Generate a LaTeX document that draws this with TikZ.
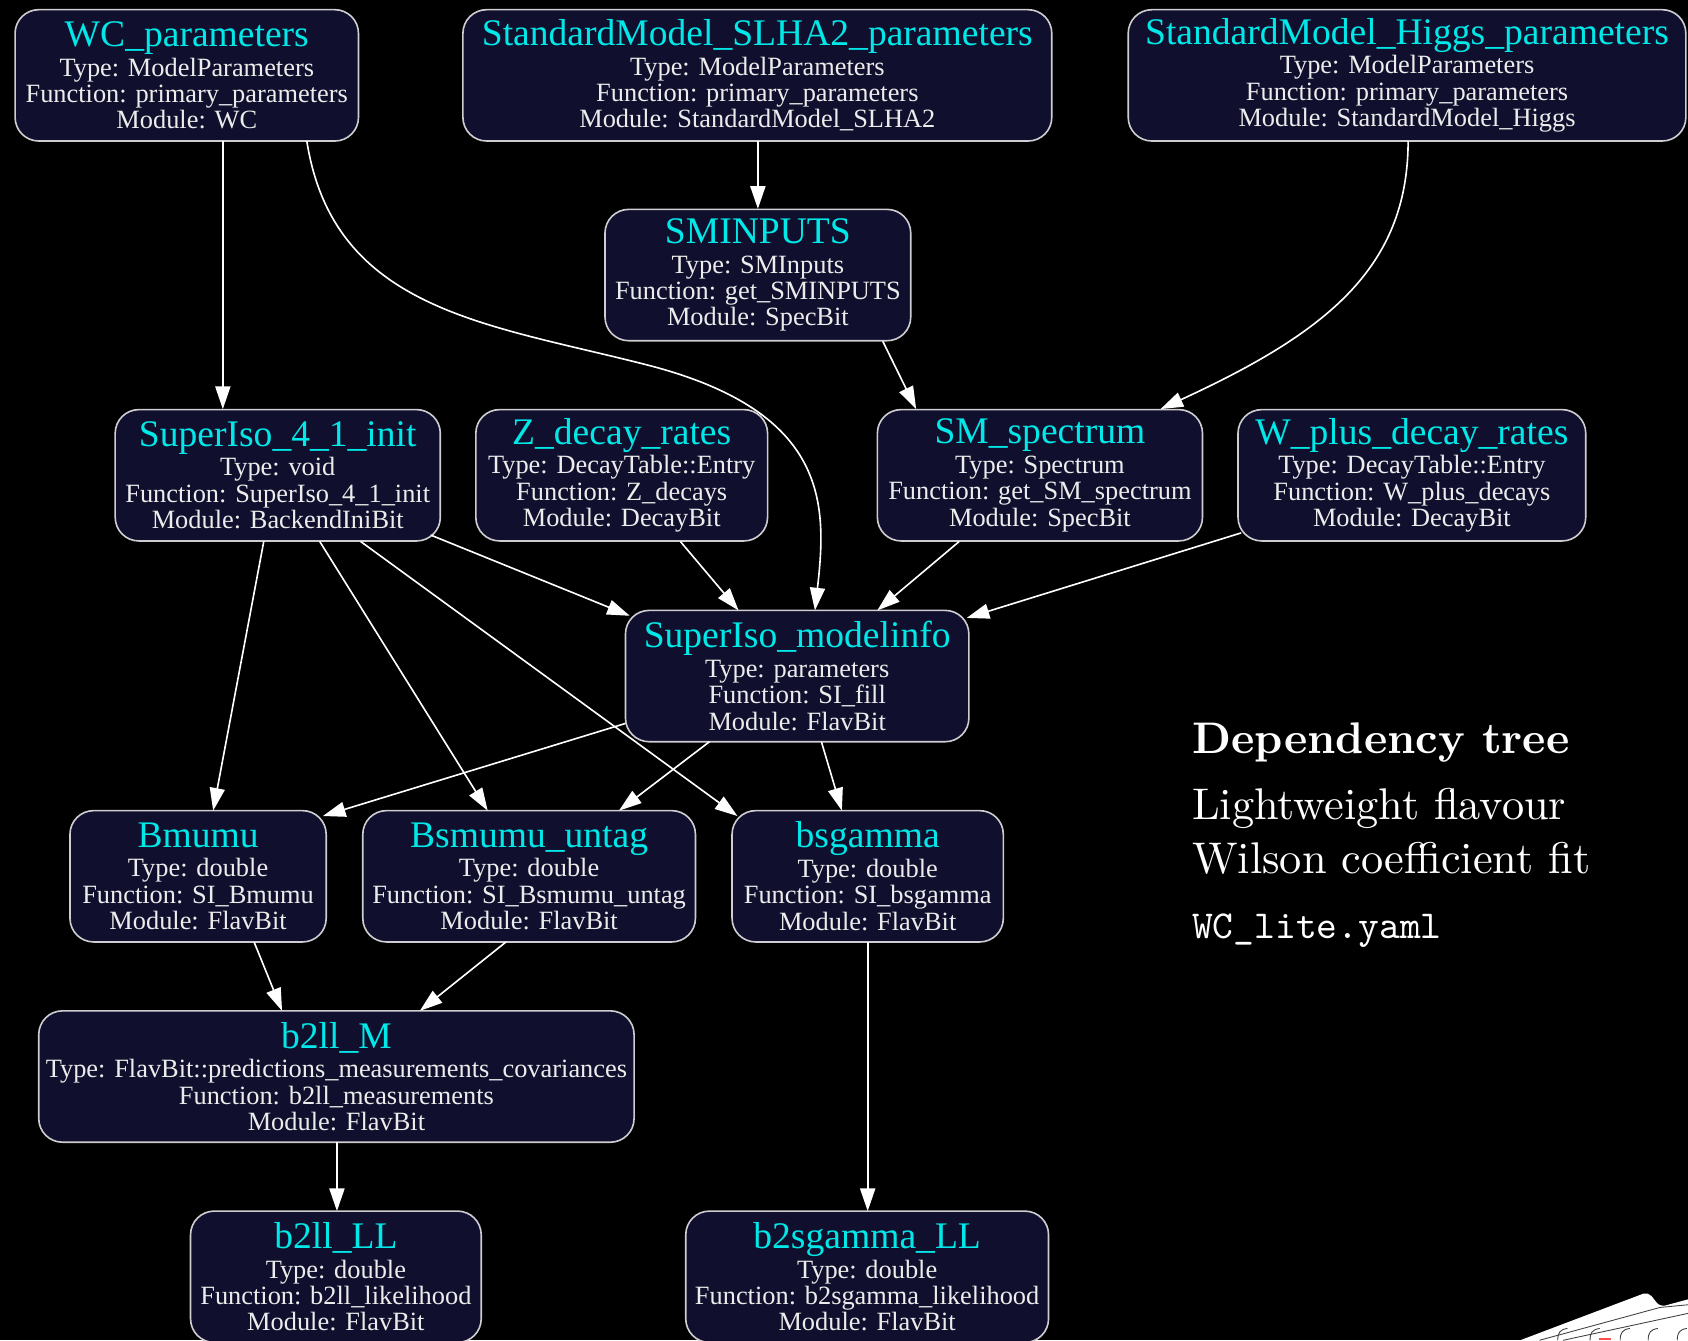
\documentclass[tikz,border=0pt]{standalone}
\usepackage{fontspec}
\usetikzlibrary{arrows.meta}
\newfontfamily\nodefont{Liberation Serif}
\newfontfamily\lmrten{lmroman10-regular}[Extension=.otf, BoldFont=lmroman10-bold]
\newfontfamily\lmtten{lmmono10-regular}[Extension=.otf]
\definecolor{boxfill}{RGB}{16,16,46}
\definecolor{boxline}{RGB}{205,205,210}
\definecolor{titlecyan}{RGB}{0,232,232}
\definecolor{bodytext}{RGB}{236,236,236}
\newcommand\gbox[4]{\vbox{\baselineskip=12.25pt\lineskiplimit=-30pt\lineskip=0pt
\halign{\hfil##\hfil\cr
{\fontsize{17.45}{17.45}\selectfont\color{titlecyan}#1}\cr
\noalign{\vskip1.5pt}
Type: #2\cr
Function: #3\cr
Module: #4\cr}}}
\tikzset{
  gnode/.style={draw=boxline, fill=boxfill, line width=0.75pt, rounded corners=11pt,
    minimum width={#1*0.5pt}, minimum height=61pt, inner sep=0pt, text=bodytext,
    font=\nodefont\fontsize{12.25}{12.25}\selectfont},
  arr/.style={draw=white, line width=0.75pt, -{Triangle[length=10.5pt,width=7pt]}},
  rtext/.style={anchor=base west, inner sep=0pt, text=white}
}
\begin{document}
\begin{tikzpicture}[x=0.5pt,y=-0.5pt]
\useasboundingbox (0,0) rectangle (1568,1245);
\clip (0,0) rectangle (1568,1245);
\fill[black] (0,0) rectangle (1568,1245);

% nodes
\node[gnode=319] (wc) at (173.5,70) {\gbox{WC\_parameters}{ModelParameters}{primary\_parameters}{WC}};
\node[gnode=547] (slha) at (703.5,70) {\gbox{StandardModel\_SLHA2\_parameters}{ModelParameters}{primary\_parameters}{StandardModel\_SLHA2}};
\node[gnode=518] (higgs) at (1307,70) {\gbox{StandardModel\_Higgs\_parameters}{ModelParameters}{primary\_parameters}{StandardModel\_Higgs}};
\node[gnode=284] (smin) at (704,255.5) {\gbox{SMINPUTS}{SMInputs}{get\_SMINPUTS}{SpecBit}};
\node[gnode=302] (sii) at (258,441.5) {\gbox{SuperIso\_4\_1\_init}{void}{SuperIso\_4\_1\_init}{BackendIniBit}};
\node[gnode=271] (zdr) at (577.5,441.5) {\gbox{Z\_decay\_rates}{DecayTable::Entry}{Z\_decays}{DecayBit}};
\node[gnode=302] (smspec) at (966,441.5) {\gbox{SM\_spectrum}{Spectrum}{get\_SM\_spectrum}{SpecBit}};
\node[gnode=323] (wdr) at (1311.5,441.5) {\gbox{W\_plus\_decay\_rates}{DecayTable::Entry}{W\_plus\_decays}{DecayBit}};
\node[gnode=319] (simi) at (740.5,628) {\gbox{SuperIso\_modelinfo}{parameters}{SI\_fill}{FlavBit}};
\node[gnode=238] (bmumu) at (184,814) {\gbox{Bmumu}{double}{SI\_Bmumu}{FlavBit}};
\node[gnode=309] (bsun) at (491.5,814) {\gbox{Bsmumu\_untag}{double}{SI\_Bsmumu\_untag}{FlavBit}};
\node[gnode=252] (bsg) at (806,814) {\gbox{bsgamma}{double}{SI\_bsgamma}{FlavBit}};
\node[gnode=553] (b2llm) at (312.5,1000) {\gbox{b2ll\_M}{FlavBit::predictions\_measurements\_covariances}{b2ll\_measurements}{FlavBit}};
\node[gnode=270] (b2llll) at (312,1186) {\gbox{b2ll\_LL}{double}{b2ll\_likelihood}{FlavBit}};
\node[gnode=337] (b2sgll) at (805.5,1186) {\gbox{b2sgamma\_LL}{double}{b2sgamma\_likelihood}{FlavBit}};

% edges
\draw[arr] ([shift={(33.5,61)}]wc.center) -- ([shift={(-51,-61.5)}]sii.center);
\draw[arr] ([shift={(111.5,61)}]wc.center) .. controls (310,290) and (455,301) .. (605,340)
  .. controls (771,384) and (768,470) .. ([shift={(16.5,-61)}]simi.center);
\draw[arr] ([shift={(0.5,61)}]slha.center) -- ([shift={(0,-61.5)}]smin.center);
\draw[arr] ([shift={(116,61.5)}]smin.center) -- ([shift={(-115,-61.5)}]smspec.center);
\draw[arr] ([shift={(1,61)}]higgs.center) .. controls (1308,250) and (1230,310) .. ([shift={(112,-61.5)}]smspec.center);
\draw[arr] ([shift={(142,55.5)}]sii.center) -- ([shift={(-155.5,-56)}]simi.center);
\draw[arr] ([shift={(54.5,61.5)}]zdr.center) -- ([shift={(-54.5,-61)}]simi.center);
\draw[arr] ([shift={(-75,61.5)}]smspec.center) -- ([shift={(74.5,-61)}]simi.center);
\draw[arr] ([shift={(-158.5,53.5)}]wdr.center) -- ([shift={(157.5,-54)}]simi.center);
\draw[arr] ([shift={(-13,61.5)}]sii.center) -- ([shift={(14,-61)}]bmumu.center);
\draw[arr] ([shift={(39,61.5)}]sii.center) -- ([shift={(-38.5,-61)}]bsun.center);
\draw[arr] ([shift={(77,61.5)}]sii.center) -- ([shift={(-121,-56)}]bsg.center);
\draw[arr] ([shift={(-159.5,44)}]simi.center) -- ([shift={(116,-56)}]bmumu.center);
\draw[arr] ([shift={(-81.5,61)}]simi.center) -- ([shift={(83.5,-61)}]bsun.center);
\draw[arr] ([shift={(22.5,61)}]simi.center) -- ([shift={(-24,-61)}]bsg.center);
\draw[arr] ([shift={(52,61)}]bmumu.center) -- ([shift={(-50.5,-61)}]b2llm.center);
\draw[arr] ([shift={(-21.5,61)}]bsun.center) -- ([shift={(77.5,-61)}]b2llm.center);
\draw[arr] ([shift={(0.5,61)}]b2llm.center) -- ([shift={(1,-61)}]b2llll.center);
\draw[arr] ([shift={(0,61)}]bsg.center) -- ([shift={(0.5,-61)}]b2sgll.center);

% side text
\node[rtext, font=\lmrten\fontsize{20.55}{24}\selectfont\bfseries] (t1) at (1107,700) {Dependency tree};
\node[rtext, font=\lmrten\fontsize{20.6}{24}\selectfont] (t2) at (1107,761) {Lightweight flavour};
\node[rtext, font=\lmrten\fontsize{20.6}{24}\selectfont] (t3) at (1107,811) {Wilson coefficient fit};
\node[rtext, font=\lmtten\fontsize{18.4}{20}\selectfont] (t4) at (1107,871.5) {WC\_lite.yaml};

% card decoration bottom right
\fill[white] (1412,1245) [rounded corners=2.5pt] -- (1531,1200) -- (1542,1214) [sharp corners] -- (1568,1207) -- (1568,1245) -- cycle;
\draw[black!75, line width=0.4pt] (1430,1245) -- (1542,1214.5) -- (1568,1212);
\draw[black!75, line width=0.4pt] (1452,1245) -- (1568,1220);
\foreach \cx in {1447,1477,1505,1531,1558}{
  \draw[black!75, line width=0.4pt] (\cx+9,1234) .. controls (\cx+2,1235) and (\cx,1238) .. (\cx,1245);
}
\fill[red!70] (1485,1243) rectangle (1496,1245);
\end{tikzpicture}
\end{document}
